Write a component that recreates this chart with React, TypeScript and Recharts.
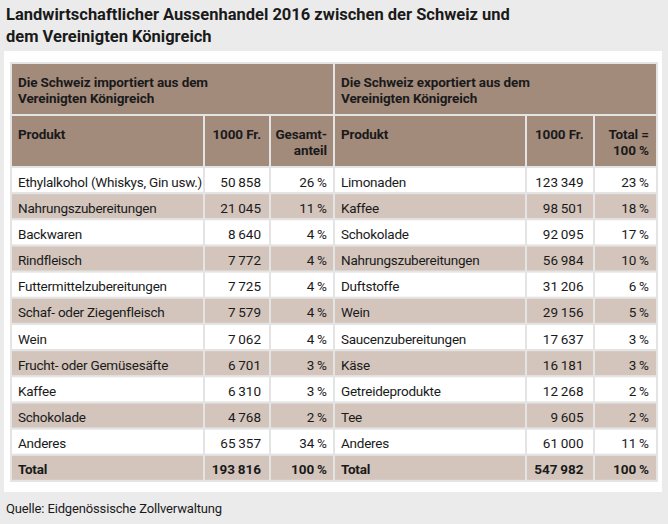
import React from 'react';
import { BarChart, Bar, XAxis, YAxis, Customized } from 'recharts';

const FONT = "Roboto, 'Noto Sans', sans-serif";

const titleLines = ['Landwirtschaftlicher Aussenhandel 2016 zwischen der Schweiz und', 'dem Vereinigten Königreich'];
const sourceText = 'Quelle: Eidgenössische Zollverwaltung';

const importHeader = ['Die Schweiz importiert aus dem', 'Vereinigten Königreich'];
const exportHeader = ['Die Schweiz exportiert aus dem', 'Vereinigten Königreich'];
const importColumns = [['Produkt'], ['1000 Fr.'], ['Gesamt-', 'anteil']];
const exportColumns = [['Produkt'], ['1000 Fr.'], ['Total =', '100 %']];

const importProducts = [
  'Ethylalkohol (Whiskys, Gin usw.)', 'Nahrungszubereitungen', 'Backwaren', 'Rindfleisch',
  'Futtermittelzubereitungen', 'Schaf- oder Ziegenfleisch', 'Wein', 'Frucht- oder Gemüsesäfte',
  'Kaffee', 'Schokolade', 'Anderes', 'Total',
];
const importValues = [50858, 21045, 8640, 7772, 7725, 7579, 7062, 6701, 6310, 4768, 65357, 193816];
const importShares = [26, 11, 4, 4, 4, 4, 4, 3, 3, 2, 34, 100];

const exportProducts = [
  'Limonaden', 'Kaffee', 'Schokolade', 'Nahrungszubereitungen', 'Duftstoffe', 'Wein',
  'Saucenzubereitungen', 'Käse', 'Getreideprodukte', 'Tee', 'Anderes', 'Total',
];
const exportValues = [123349, 98501, 92095, 56984, 31206, 29156, 17637, 16181, 12268, 9605, 61000, 547982];
const exportShares = [23, 18, 17, 10, 6, 5, 3, 3, 2, 2, 11, 100];

const rows = importProducts.map((p, i) => ({
  row: String(i),
  importProduct: p,
  importValue: importValues[i],
  importShare: importShares[i],
  exportProduct: exportProducts[i],
  exportValue: exportValues[i],
  exportShare: exportShares[i],
}));

const fmtNum = (v: number) => String(v).replace(/\B(?=(\d{3})+(?!\d))/g, '\u2009');
const fmtPct = (v: number) => `${v}\u2009%`;

const HEADER = '#a38b7c';
const STRIPE = '#d3c5bc';
const SEP = '#e4e4e4';
const TEXT = '#1a1a1a';

// column cell edges
const COLS = [
  [12, 203], [205, 269], [271, 333],
  [335, 525], [527, 593], [595, 656],
];
const TEXT_X = [18, 261, 327, 341, 583.5, 649];

const RowShape = (props: any) => {
  const { y, height, index, payload } = props;
  const fill = index % 2 === 0 ? '#ffffff' : STRIPE;
  const isTotal = index === rows.length - 1;
  const base = y + height / 2 + 5.5;
  const texts = [
    payload.importProduct, fmtNum(payload.importValue), fmtPct(payload.importShare),
    payload.exportProduct, fmtNum(payload.exportValue), fmtPct(payload.exportShare),
  ];
  return (
    <g>
      {COLS.map(([a, b], k) => (
        <rect key={k} x={a} y={y} width={b - a} height={height - 2} fill={fill} />
      ))}
      {texts.map((t, k) => (
        <text
          key={'t' + k}
          x={TEXT_X[k]}
          y={base}
          textAnchor={k % 3 === 0 ? 'start' : 'end'}
          fontFamily={FONT}
          fontSize={13.5}
          letterSpacing={k % 3 === 0 ? -0.25 : 0}
          fontWeight={isTotal ? 700 : 400}
          fill={TEXT}
        >
          {t}
        </text>
      ))}
    </g>
  );
};

const Headers = () => {
  const hText = (x: number, y: number, t: string, anchor: 'start' | 'end', key: string) => (
    <text key={key} x={x} y={y} textAnchor={anchor} fontFamily={FONT} fontSize={13.5} fontWeight={700} letterSpacing={-0.1} fill={TEXT}>
      {t}
    </text>
  );
  return (
    <g>
      <rect x={10} y={62} width={648} height={420} fill={SEP} />
      <rect x={12} y={64} width={321} height={50} fill={HEADER} />
      <rect x={335} y={64} width={321} height={50} fill={HEADER} />
      {COLS.map(([a, b], k) => (
        <rect key={'c' + k} x={a} y={116} width={b - a} height={50} fill={HEADER} />
      ))}
      {importHeader.map((t, k) => hText(18, 87 + k * 16, t, 'start', 'ih' + k))}
      {exportHeader.map((t, k) => hText(341, 87 + k * 16, t, 'start', 'eh' + k))}
      {[...importColumns, ...exportColumns].map((lines, c) =>
        lines.map((t, k) =>
          hText(TEXT_X[c], 139 + k * 16, t, c % 3 === 0 ? 'start' : 'end', `col${c}-${k}`)
        )
      )}
    </g>
  );
};

export default function App() {
  return (
    <div style={{ position: 'absolute', left: 0, top: 0, width: 668, height: 524, background: '#ebebeb', overflow: 'hidden' }}>
      <div style={{ position: 'absolute', left: 4, top: 51, width: 658, height: 441, background: '#ffffff' }} />
      <div style={{ position: 'absolute', left: 0, top: 0 }}>
        <BarChart
          width={668}
          height={524}
          data={rows}
          layout="vertical"
          margin={{ top: 168, right: 11, bottom: 42, left: 12 }}
          barCategoryGap={0}
        >
          <Customized component={Headers} />
          <XAxis type="number" hide domain={[0, 'dataMax']} />
          <YAxis type="category" dataKey="row" hide />
          <Bar dataKey="importValue" isAnimationActive={false} shape={RowShape} />
        </BarChart>
      </div>
      <svg width={668} height={524} style={{ position: 'absolute', left: 0, top: 0, pointerEvents: 'none' }}>
        {titleLines.map((t, k) => (
          <text key={k} x={6} y={20 + k * 22} fontFamily={FONT} fontSize={16.5} fontWeight={700} fill={TEXT}>
            {t}
          </text>
        ))}
        <text x={6} y={513} fontFamily={FONT} fontSize={13} letterSpacing={-0.15} fill={TEXT}>
          {sourceText}
        </text>
      </svg>
    </div>
  );
}
